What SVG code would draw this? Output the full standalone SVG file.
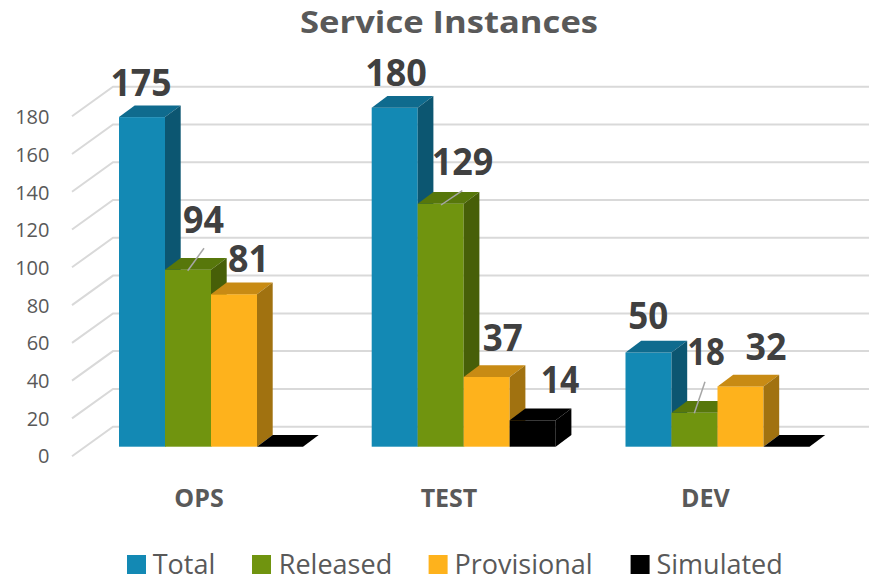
<svg xmlns="http://www.w3.org/2000/svg" width="869" height="580" viewBox="0 0 869 580">
<style>
.grid{stroke:#d9d9d9;stroke-width:2;fill:none}
.tick{font-family:"Open Sans","Liberation Sans",sans-serif;font-size:20px;fill:#595959;text-anchor:end}
.val{font-family:"Open Sans","Liberation Sans",sans-serif;font-size:37px;font-weight:bold;fill:#404040;text-anchor:middle}
.cat{font-family:"Open Sans","Liberation Sans",sans-serif;font-size:25px;font-weight:bold;fill:#595959;text-anchor:middle}
.title{font-family:"Open Sans","Liberation Sans",sans-serif;font-size:30px;font-weight:bold;fill:#595959}
.leg{font-family:"Open Sans","Liberation Sans",sans-serif;font-size:27px;fill:#595959}
.lead{stroke:#a6a6a6;stroke-width:1.5;fill:none}
.tf{fill:#1389b4}.tt{fill:#0f6b8e}.ts{fill:#0c5671}
.rf{fill:#70940f}.rt{fill:#57770b}.rs{fill:#475f08}
.pf{fill:#feb21c}.pt{fill:#c88b14}.ps{fill:#a17210}
.sf{fill:#000}
</style>
<rect width="869" height="580" fill="#fff"/>
<text class="title" x="300" y="32.5" textLength="298" lengthAdjust="spacingAndGlyphs">Service Instances</text>
<g id="gridlines">
<path class="grid" d="M72,456.2L113,426.7H869M72,418.4L113,388.9H869M72,380.6L113,351.1H869M72,342.9L113,313.4H869M72,305.1L113,275.6H869M72,267.3L113,237.8H869M72,229.5L113,200H869M72,191.8L113,162.3H869M72,154L113,124.5H869M72,116.2L113,86.7H869"/>
</g>
<g id="axis">
<text class="tick" x="49.5" y="463.3">0</text>
<text class="tick" x="49.5" y="425.7">20</text>
<text class="tick" x="49.5" y="388">40</text>
<text class="tick" x="49.5" y="350.4">60</text>
<text class="tick" x="49.5" y="312.7">80</text>
<text class="tick" x="49.5" y="275">100</text>
<text class="tick" x="49.5" y="237.4">120</text>
<text class="tick" x="49.5" y="199.7">140</text>
<text class="tick" x="49.5" y="162">160</text>
<text class="tick" x="49.5" y="124.4">180</text>
</g>
<g id="ops">
<rect class="tf" x="119" y="117.1" width="46" height="329.6"/>
<polygon class="tt" points="119,117.1 165,117.1 180.7,105.4 134.7,105.4"/>
<polygon class="ts" points="165,117.1 180.7,105.4 180.7,435 165,446.7"/>
<rect class="rf" x="165" y="269.7" width="46" height="177"/>
<polygon class="rt" points="165,269.7 211,269.7 226.7,258 180.7,258"/>
<polygon class="rs" points="211,269.7 226.7,258 226.7,435 211,446.7"/>
<rect class="pf" x="211" y="294.2" width="46" height="152.5"/>
<polygon class="pt" points="211,294.2 257,294.2 272.7,282.5 226.7,282.5"/>
<polygon class="ps" points="257,294.2 272.7,282.5 272.7,435 257,446.7"/>
<polygon class="sf" points="257,446.7 303,446.7 318.7,435 272.7,435"/>
</g>
<g id="test">
<rect class="tf" x="371.7" y="107.7" width="46" height="339"/>
<polygon class="tt" points="371.7,107.7 417.7,107.7 433.4,96 387.4,96"/>
<polygon class="ts" points="417.7,107.7 433.4,96 433.4,435 417.7,446.7"/>
<rect class="rf" x="417.7" y="203.7" width="46" height="243"/>
<polygon class="rt" points="417.7,203.7 463.7,203.7 479.4,192 433.4,192"/>
<polygon class="rs" points="463.7,203.7 479.4,192 479.4,435 463.7,446.7"/>
<rect class="pf" x="463.7" y="377" width="46" height="69.7"/>
<polygon class="pt" points="463.7,377 509.7,377 525.4,365.3 479.4,365.3"/>
<polygon class="ps" points="509.7,377 525.4,365.3 525.4,435 509.7,446.7"/>
<rect class="sf" x="509.7" y="420.3" width="46" height="26.4"/>
<polygon class="sf" points="509.7,420.3 555.7,420.3 571.4,408.6 525.4,408.6"/>
<polygon class="sf" points="555.7,420.3 571.4,408.6 571.4,435 555.7,446.7"/>
</g>
<g id="dev">
<rect class="tf" x="625.5" y="352.5" width="46" height="94.2"/>
<polygon class="tt" points="625.5,352.5 671.5,352.5 687.2,340.8 641.2,340.8"/>
<polygon class="ts" points="671.5,352.5 687.2,340.8 687.2,435 671.5,446.7"/>
<rect class="rf" x="671.5" y="412.8" width="46" height="33.9"/>
<polygon class="rt" points="671.5,412.8 717.5,412.8 733.2,401.1 687.2,401.1"/>
<polygon class="rs" points="717.5,412.8 733.2,401.1 733.2,435 717.5,446.7"/>
<rect class="pf" x="717.5" y="386.4" width="46" height="60.3"/>
<polygon class="pt" points="717.5,386.4 763.5,386.4 779.2,374.7 733.2,374.7"/>
<polygon class="ps" points="763.5,386.4 779.2,374.7 779.2,435 763.5,446.7"/>
<polygon class="sf" points="763.5,446.7 809.5,446.7 825.2,435 779.2,435"/>
</g>
<g id="connectors">
<line class="lead" x1="187.7" y1="270.7" x2="204" y2="248.3"/>
<line class="lead" x1="441" y1="205" x2="462.3" y2="190.7"/>
<line class="lead" x1="694.3" y1="413.3" x2="705" y2="381.7"/>
</g>
<g id="labels">
<text class="val" x="141" y="95.7" textLength="61" lengthAdjust="spacingAndGlyphs">175</text>
<text class="val" x="203.5" y="232.7" textLength="41" lengthAdjust="spacingAndGlyphs">94</text>
<text class="val" x="248.5" y="271.7" textLength="41" lengthAdjust="spacingAndGlyphs">81</text>
<text class="val" x="396" y="86" textLength="61.7" lengthAdjust="spacingAndGlyphs">180</text>
<text class="val" x="462.5" y="175" textLength="61.6" lengthAdjust="spacingAndGlyphs">129</text>
<text class="val" x="502.7" y="351" textLength="40" lengthAdjust="spacingAndGlyphs">37</text>
<text class="val" x="560" y="393.3" textLength="38.6" lengthAdjust="spacingAndGlyphs">14</text>
<text class="val" x="648.3" y="329.3" textLength="40" lengthAdjust="spacingAndGlyphs">50</text>
<text class="val" x="706" y="365" textLength="37.7" lengthAdjust="spacingAndGlyphs">18</text>
<text class="val" x="766" y="360" textLength="41" lengthAdjust="spacingAndGlyphs">32</text>
</g>
<g id="categories">
<text class="cat" x="199" y="506.5">OPS</text>
<text class="cat" x="449" y="506.5">TEST</text>
<text class="cat" x="705.5" y="506.5">DEV</text>
</g>
<g id="legend">
<rect class="tf" x="127" y="555" width="19" height="19"/>
<text class="leg" x="152.7" y="573.5">Total</text>
<rect class="rf" x="252" y="555" width="19" height="19"/>
<text class="leg" x="278.8" y="573.5">Released</text>
<rect class="pf" x="428.6" y="555" width="19" height="19"/>
<text class="leg" x="454.5" y="573.5">Provisional</text>
<rect class="sf" x="630.6" y="555" width="19" height="19"/>
<text class="leg" x="656.5" y="573.5">Simulated</text>
</g>
</svg>
